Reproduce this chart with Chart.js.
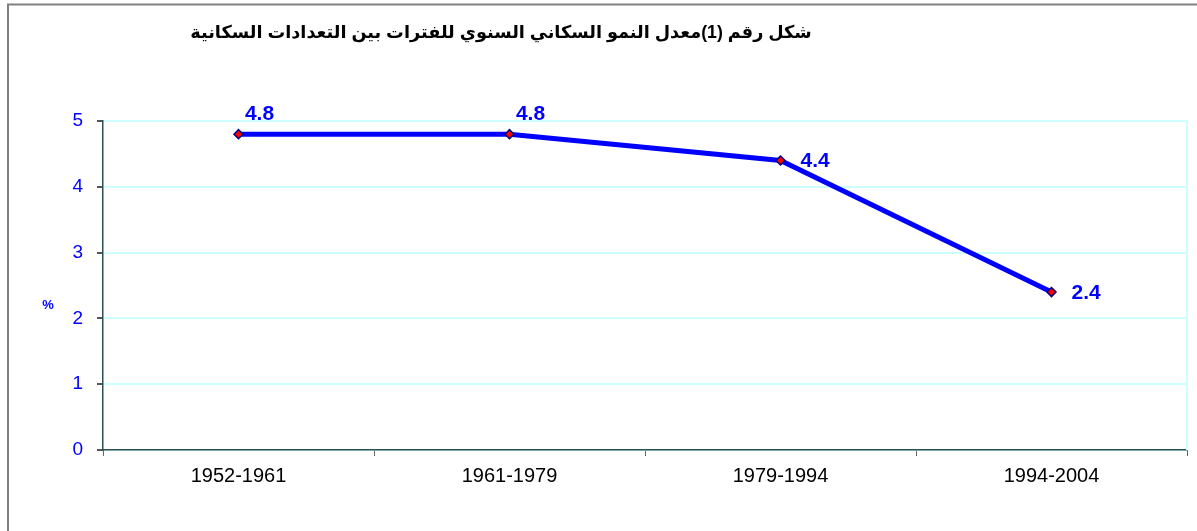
<!DOCTYPE html>
<html>
<head>
<meta charset="utf-8">
<script src="https://cdn.jsdelivr.net/npm/chart.js@4"></script>
<style>
  html, body { margin: 0; padding: 0; background: #fff; }
  #wrap { width: 1197px; height: 531px; position: relative; }
</style>
</head>
<body>
<div id="wrap"><canvas id="myChart" width="1197" height="531"></canvas></div>
<script>
var chartTitle = 'شكل رقم (1)معدل النمو السكاني السنوي للفترات بين التعدادات السكانية';
var periods = ['1952-1961', '1961-1979', '1979-1994', '1994-2004'];
var growthRates = [4.8, 4.8, 4.4, 2.4];
var yTicks = [0, 1, 2, 3, 4, 5];

// label placement per point: 'above' or 'right'
var labelPlace = ['above', 'above', 'right', 'right'];

var decor = {
    id: 'decor',
    beforeDraw: function (chart) {
        var ctx = chart.ctx;
        ctx.save();
        // outer frame (left + top)
        ctx.strokeStyle = '#808080';
        ctx.lineWidth = 2;
        ctx.beginPath();
        ctx.moveTo(8, 531);
        ctx.lineTo(8, 4.5);
        ctx.lineTo(1197, 4.5);
        ctx.stroke();
        // title
        ctx.fillStyle = '#000';
        ctx.font = 'bold 17.7px Arial, "Liberation Sans", "DejaVu Sans", sans-serif';
        ctx.direction = 'rtl';
        ctx.textAlign = 'center';
        ctx.textBaseline = 'middle';
        ctx.fillText(chartTitle, 501, 33);
        // y axis title
        ctx.direction = 'ltr';
        ctx.fillStyle = '#0000ff';
        ctx.font = 'bold 13px Arial, "Liberation Sans", sans-serif';
        ctx.fillText('%', 48, 305);
        ctx.restore();
    },
    afterDatasetsDraw: function (chart) {
        var ctx = chart.ctx;
        var area = chart.chartArea;
        ctx.save();
        ctx.strokeStyle = '#ccffff';
        ctx.lineWidth = 2;
        ctx.beginPath();
        ctx.moveTo(area.right, area.top);
        ctx.lineTo(area.right, area.bottom);
        ctx.stroke();
        var meta = chart.getDatasetMeta(0);
        ctx.fillStyle = '#0000ff';
        ctx.font = 'bold 21px Arial, "Liberation Sans", sans-serif';
        ctx.textBaseline = 'middle';
        meta.data.forEach(function (pt, i) {
            var txt = growthRates[i].toFixed(1);
            if (labelPlace[i] === 'above') {
                ctx.textAlign = 'center';
                ctx.fillText(txt, pt.x + 21, pt.y - 20);
            } else {
                ctx.textAlign = 'left';
                ctx.fillText(txt, pt.x + 20, pt.y + 1);
            }
        });
        ctx.restore();
    }
};

var ctx = document.getElementById('myChart').getContext('2d');
var myChart = new Chart(ctx, {
    type: 'line',
    data: {
        labels: periods,
        datasets: [{
            data: growthRates,
            borderColor: '#0000ff',
            borderWidth: 5,
            pointStyle: 'rectRot',
            pointRadius: 4.5,
            pointHoverRadius: 4.5,
            pointBackgroundColor: '#ff0000',
            pointBorderColor: '#000080',
            pointBorderWidth: 1.5,
            tension: 0,
            fill: false
        }]
    },
    options: {
        responsive: false,
        animation: false,
        layout: { padding: { top: 121, right: 10, left: 0, bottom: 0 } },
        plugins: {
            legend: { display: false },
            title: { display: false },
            tooltip: { enabled: false }
        },
        scales: {
            x: {
                offset: true,
                afterFit: function (scale) { scale.height = 81; },
                grid: {
                    offset: true,
                    drawOnChartArea: false,
                    drawTicks: true,
                    tickLength: 6,
                    tickColor: '#666'
                },
                border: { color: '#2f4f4f', width: 1.5 },
                ticks: {
                    color: '#000',
                    padding: 8,
                    font: { family: 'Arial, "Liberation Sans", sans-serif', size: 20 }
                }
            },
            y: {
                min: 0,
                max: 5,
                afterFit: function (scale) { scale.width = 103; },
                afterBuildTicks: function (scale) {
                    scale.ticks = yTicks.map(function (v) { return { value: v }; });
                },
                grid: {
                    color: '#ccffff',
                    lineWidth: 2,
                    tickLength: 6,
                    tickColor: '#555'
                },
                border: { color: '#2f4f4f', width: 1.5 },
                ticks: {
                    color: '#0000ff',
                    padding: 14,
                    font: { family: 'Arial, "Liberation Sans", sans-serif', size: 19 }
                }
            }
        }
    },
    plugins: [decor]
});
</script>
</body>
</html>
